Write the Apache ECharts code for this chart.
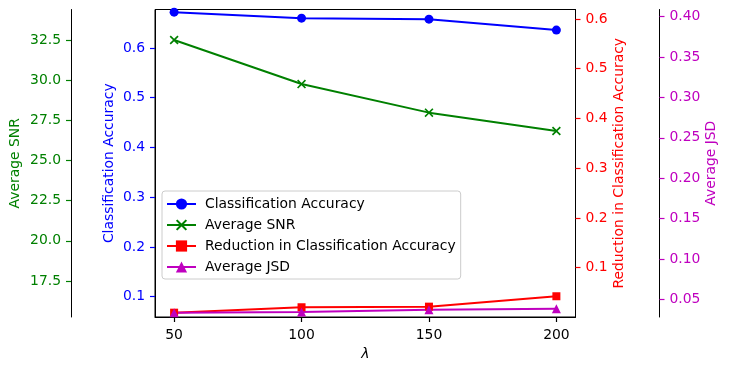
<!DOCTYPE html>
<html>
<head>
<meta charset="utf-8">
<script src="https://cdn.jsdelivr.net/npm/echarts@6/dist/echarts.min.js"></script>
<style>
  html, body { margin: 0; padding: 0; background: #fff; }
  #chart { width: 729px; height: 372px; }
</style>
</head>
<body>
<div id="chart"></div>
<script>
// lambda values on the x axis
var lambdas = [50, 100, 150, 200];
var accuracy = [0.672, 0.660, 0.658, 0.636];
var snr = [32.5, 29.76, 27.98, 26.84];
var reduction = [0.0096, 0.0205, 0.0217, 0.0426];
var jsd = [0.0334, 0.0343, 0.0371, 0.0384];

// tick values per axis
var accTicks = [0.1, 0.2, 0.3, 0.4, 0.5, 0.6];
var snrTicks = [17.5, 20.0, 22.5, 25.0, 27.5, 30.0, 32.5];
var redTicks = [0.1, 0.2, 0.3, 0.4, 0.5, 0.6];
var jsdTicks = [0.05, 0.10, 0.15, 0.20, 0.25, 0.30, 0.35, 0.40];

var FONT = 'DejaVu Sans';
var FS = 13.9;
var BLUE = '#0000ff', GREEN = '#008000', RED = '#ff0000', MAG = '#bf00bf';
var X_MARK = 'path://M0,1.3 L1.3,0 L5,3.7 L8.7,0 L10,1.3 L6.3,5 L10,8.7 L8.7,10 L5,6.3 L1.3,10 L0,8.7 L3.7,5 Z';

function pairs(ys) {
    var out = [];
    for (var i = 0; i < lambdas.length; i++) out.push([lambdas[i], ys[i]]);
    return out;
}

function yAxisFor(name, color, pos, offset, min, max, ticks, digits, gap) {
    return {
        type: 'value',
        position: pos,
        offset: offset,
        min: min,
        max: max,
        name: name,
        nameLocation: 'middle',
        nameGap: gap,
        nameMoveOverlap: false,
        nameTextStyle: { color: color, fontFamily: FONT, fontSize: FS },
        axisLine: { show: true, onZero: false, lineStyle: { color: '#000', width: 1 } },
        axisTick: { show: true, length: 5, customValues: ticks, lineStyle: { color: color, width: 1.2 } },
        axisLabel: {
            color: color, fontFamily: FONT, fontSize: FS, margin: 10,
            customValues: ticks,
            formatter: function (v) { return v.toFixed(digits); }
        },
        splitLine: { show: false }
    };
}

var chart = echarts.init(document.getElementById('chart'), null, { renderer: 'canvas' });

var option = {
    backgroundColor: '#fff',
    animation: false,
    grid: {
        left: 155, right: 153.5, top: 9.5, bottom: 55,
        outerBoundsMode: 'none',
        show: true, borderColor: '#000', borderWidth: 1, backgroundColor: 'transparent'
    },
    legend: {
        orient: 'vertical',
        left: 162, top: 191,
        padding: [6, 5, 5, 4],
        itemWidth: 29, itemHeight: 14, itemGap: 7,
        backgroundColor: 'rgba(255,255,255,0.8)',
        borderColor: '#cccccc', borderWidth: 1, borderRadius: 3,
        textStyle: { fontFamily: FONT, fontSize: FS, color: '#000', padding: [0, 0, 0, 4] },
        data: ['Classification Accuracy', 'Average SNR', 'Reduction in Classification Accuracy', 'Average JSD']
    },
    xAxis: {
        type: 'value',
        min: 42.5, max: 207.5,
        name: 'λ',
        nameLocation: 'middle',
        nameGap: 30,
        nameMoveOverlap: false,
        nameTextStyle: { color: '#000', fontFamily: FONT, fontSize: FS, fontStyle: 'italic' },
        axisLine: { show: true, onZero: false, lineStyle: { color: '#000', width: 1 } },
        axisTick: { show: true, length: 5, customValues: lambdas, lineStyle: { color: '#000', width: 1.2 } },
        axisLabel: { color: '#000', fontFamily: FONT, fontSize: FS, margin: 11, customValues: lambdas },
        splitLine: { show: false }
    },
    yAxis: [
        yAxisFor('Classification Accuracy', BLUE, 'left', 0, 0.0592, 0.6774, accTicks, 1, 39),
        yAxisFor('Average SNR', GREEN, 'left', 84, 15.26, 34.40, snrTicks, 1, 49),
        yAxisFor('Reduction in Classification Accuracy', RED, 'right', 0, 0.0009, 0.619, redTicks, 1, 37),
        yAxisFor('Average JSD', MAG, 'right', 84, 0.0281, 0.4089, jsdTicks, 2, 45)
    ],
    series: [
        {
            name: 'Classification Accuracy', type: 'line', yAxisIndex: 0,
            data: pairs(accuracy), symbol: 'circle', symbolSize: 9,
            itemStyle: { color: BLUE }, lineStyle: { color: BLUE, width: 2 }
        },
        {
            name: 'Average SNR', type: 'line', yAxisIndex: 1,
            data: pairs(snr), symbol: X_MARK, symbolSize: 9,
            itemStyle: { color: GREEN }, lineStyle: { color: GREEN, width: 2 }
        },
        {
            name: 'Reduction in Classification Accuracy', type: 'line', yAxisIndex: 2,
            data: pairs(reduction), symbol: 'rect', symbolSize: 8,
            itemStyle: { color: RED }, lineStyle: { color: RED, width: 2 }
        },
        {
            name: 'Average JSD', type: 'line', yAxisIndex: 3,
            data: pairs(jsd), symbol: 'triangle', symbolSize: 9,
            itemStyle: { color: MAG }, lineStyle: { color: MAG, width: 2 }
        }
    ]
};

chart.setOption(option);
</script>
</body>
</html>
